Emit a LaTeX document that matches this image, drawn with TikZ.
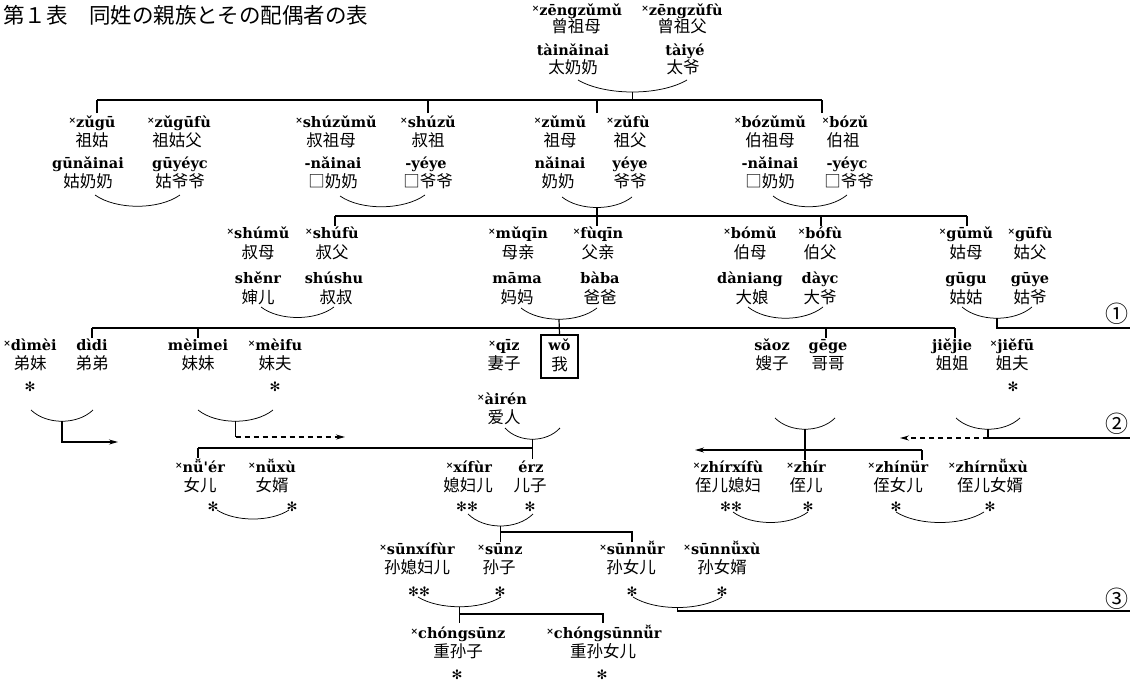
\documentclass[tikz,border=0pt]{standalone}
\usepackage{fontspec}
\usetikzlibrary{calc,arrows.meta}
\newfontfamily\pyfam{DejaVu Serif}
\newfontfamily\hzfam{Noto Sans CJK SC}
\newfontfamily\jpfam{Noto Sans CJK JP}
\newfontfamily\symfam{DejaVu Sans}
\newcommand{\pyf}{\pyfam\bfseries\fontsize{14.5}{14.5}\selectfont}
\newcommand{\hzf}{\hzfam\fontsize{16.5}{16.5}\selectfont}
\newcommand{\stf}{\symfam\fontsize{13}{13}\selectfont}
\newcommand{\ttlf}{\jpfam\fontsize{21.5}{21.5}\selectfont}
\newcommand{\circf}{\hzfam\fontsize{23}{23}\selectfont}
\newcommand{\xm}{\raisebox{3.5pt}{\fontsize{9}{9}\selectfont ×}}
\tikzset{
  py/.style={font=\pyf, inner sep=0pt, text height=11pt, text depth=3pt},
  hz/.style={font=\hzf, inner sep=0pt, text height=13.5pt, text depth=2pt},
  st/.style={font=\stf, inner sep=0pt},
  ttl/.style={font=\ttlf, inner sep=0pt, anchor=west},
  circnum/.style={font=\circf, inner sep=0pt},
  main/.style={line width=1.2pt},
  arcline/.style={line width=0.75pt},
  arr/.style={main, -{Stealth[length=9pt,width=5pt]}},
  darr/.style={arr, dash pattern=on 5pt off 4pt},
  wobox/.style={draw, line width=1.3pt, inner sep=0pt, minimum width=37pt, minimum height=43pt}
}
\newcommand{\pyn}[4]{\node[py] (#1) at (#2,#3) {#4};}
\newcommand{\hzn}[4]{\node[hz] (#1) at (#2,#3) {#4};}
\newcommand{\stn}[4]{\node[st] (#1) at (#2,#3) {#4};}
\newcommand{\marc}[6]{%
  \coordinate (#1L) at (#2,#3);
  \coordinate (#1R) at (#4,#5);
  \coordinate (#1M) at ($(#1L)!0.5!(#1R)+(0,0.75*#6)$);
  \draw[arcline] (#1L) .. controls ($(#1L)!0.25!(#1R)+(0,#6)$) and ($(#1L)!0.75!(#1R)+(0,#6)$) .. (#1R);
}
\begin{document}
\begin{tikzpicture}[x=1pt,y=-1pt]
\fill[white] (0,0) rectangle (1130,686);
\useasboundingbox (0,0) rectangle (1130,686);
\node[ttl] (title) at (3,15) {第１表　同姓の親族とその配偶者の表};

% generation 0
\pyn{ggmP}{577}{11}{\xm zēngzǔmǔ}
\hzn{ggmH}{576}{27}{曾祖母}
\pyn{ggmQ}{573}{51}{tàinǎinai}
\hzn{ggmG}{573}{68}{太奶奶}
\pyn{ggfP}{682}{11}{\xm zēngzǔfù}
\hzn{ggfH}{682}{27}{曾祖父}
\pyn{ggfQ}{685}{51}{tàiyé}
\hzn{ggfG}{683}{68}{太爷}
\marc{gg}{578}{80}{687}{80}{16}
\coordinate (L0a) at (97,100);
\coordinate (L0b) at (822,100);
\draw[main] (L0a) -- (L0b);
\draw[main] (ggM) -- (ggM |- L0a);
\coordinate (k01) at (97,113);
\coordinate (k02) at (428,113);
\coordinate (k03) at (597,113);
\coordinate (k04) at (822,113);
\foreach \k in {k01,k02,k03,k04} \draw[main] (\k) -- (\k |- L0a);

% generation 1
\pyn{zgP}{92}{123}{\xm zǔgū}
\hzn{zgH}{92}{141}{祖姑}
\pyn{zgQ}{88}{164}{gūnǎinai}
\hzn{zgG}{88}{182}{姑奶奶}
\pyn{zgfP}{179}{123}{\xm zǔgūfù}
\hzn{zgfH}{177}{141}{祖姑父}
\pyn{zgfQ}{180}{164}{gūyéyc}
\hzn{zgfG}{180}{182}{姑爷爷}
\marc{zg}{95}{195}{180}{195}{15}

\pyn{szmP}{336}{123}{\xm shúzǔmǔ}
\hzn{szmH}{331}{141}{叔祖母}
\pyn{szmQ}{333}{164}{-nǎinai}
\hzn{szmG}{333}{182}{□奶奶}
\pyn{szP}{428}{123}{\xm shúzǔ}
\hzn{szH}{428}{141}{叔祖}
\pyn{szQ}{426}{164}{-yéye}
\hzn{szG}{428}{182}{□爷爷}
\marc{sz}{340}{196}{425}{195}{15}

\pyn{zmP}{560}{123}{\xm zǔmǔ}
\hzn{zmH}{560}{141}{祖母}
\pyn{zmQ}{560}{164}{nǎinai}
\hzn{zmG}{558}{182}{奶奶}
\pyn{zfP}{628}{123}{\xm zǔfù}
\hzn{zfH}{630}{141}{祖父}
\pyn{zfQ}{630}{164}{yéye}
\hzn{zfG}{630}{182}{爷爷}
\marc{zz}{562}{197}{632}{197}{14}

\pyn{bzmP}{770}{123}{\xm bózǔmǔ}
\hzn{bzmH}{770}{141}{伯祖母}
\pyn{bzmQ}{770}{164}{-nǎinai}
\hzn{bzmG}{770}{182}{□奶奶}
\pyn{bzP}{845}{123}{\xm bózǔ}
\hzn{bzH}{843}{141}{伯祖}
\pyn{bzQ}{847}{164}{-yéyc}
\hzn{bzG}{849}{182}{□爷爷}
\marc{bz}{773}{196}{847}{195}{15}

\coordinate (L1a) at (335,216);
\coordinate (L1b) at (967,216);
\draw[main] (L1a) -- (L1b);
\coordinate (k11) at (335,226);
\coordinate (k12) at (597,226);
\coordinate (k13) at (821,226);
\coordinate (k14) at (967,226);
\foreach \k in {k11,k13,k14} \draw[main] (\k) -- (\k |- L1a);
\draw[main] (zzM) -- (k12);

% generation 2
\pyn{smP}{258}{234}{\xm shúmǔ}
\hzn{smH}{258}{253}{叔母}
\pyn{smQ}{258}{279}{shěnr}
\hzn{smG}{258}{298}{婶儿}
\pyn{sfP}{332}{234}{\xm shúfù}
\hzn{sfH}{332}{253}{叔父}
\pyn{sfQ}{334}{279}{shúshu}
\hzn{sfG}{336}{298}{叔叔}
\marc{sf}{261}{307}{334}{307}{14}

\pyn{mqP}{518}{234}{\xm mǔqīn}
\hzn{mqH}{518}{253}{母亲}
\pyn{mqQ}{517}{279}{māma}
\hzn{mqG}{517}{298}{妈妈}
\pyn{fqP}{598}{234}{\xm fùqīn}
\hzn{fqH}{598}{253}{父亲}
\pyn{fqQ}{600}{279}{bàba}
\hzn{fqG}{600}{298}{爸爸}
\marc{fq}{521}{308}{597}{308}{15}

\pyn{bmP}{750}{234}{\xm bómǔ}
\hzn{bmH}{750}{253}{伯母}
\pyn{bmQ}{750}{279}{dàniang}
\hzn{bmG}{752}{298}{大娘}
\pyn{bfP}{820}{234}{\xm bófù}
\hzn{bfH}{820}{253}{伯父}
\pyn{bfQ}{820}{279}{dàyc}
\hzn{bfG}{820}{298}{大爷}
\marc{bf}{748}{307}{823}{307}{15}

\pyn{gmP}{966}{234}{\xm gūmǔ}
\hzn{gmH}{966}{253}{姑母}
\pyn{gmQ}{966}{279}{gūgu}
\hzn{gmG}{966}{298}{姑姑}
\pyn{gfP}{1030}{234}{\xm gūfù}
\hzn{gfH}{1030}{253}{姑父}
\pyn{gfQ}{1030}{279}{gūye}
\hzn{gfG}{1030}{298}{姑爷}
\marc{gf}{962}{307}{1032}{307}{15}
\coordinate (L1r) at (1130,328);
\draw[main] (gfM) |- (L1r);
\node[circnum] (c1) at (1117,314) {①};

% generation 3
\node[wobox] (wobox) at (559.5,356.5) {};
\pyn{woP}{559.5}{346}{wǒ}
\hzn{woH}{559.5}{365}{我}
\draw[main] (fqM) -- (wobox.north);

\coordinate (L2a) at (92,328);
\coordinate (L2b) at (955,328);
\draw[main] (L2a) -- (L2b);
\coordinate (k21) at (92,338);
\coordinate (k22) at (198,338);
\coordinate (k23) at (826,338);
\coordinate (k24) at (955,338);
\foreach \k in {k21,k22,k23,k24} \draw[main] (\k) -- (\k |- L2a);

\pyn{dmP}{30}{346}{\xm dìmèi}
\hzn{dmH}{30}{364}{弟妹}
\stn{dmS}{30}{387}{✻}
\pyn{ddP}{92}{346}{dìdi}
\hzn{ddH}{92}{364}{弟弟}
\pyn{mmP}{198}{346}{mèimei}
\hzn{mmH}{198}{364}{妹妹}
\pyn{mfP}{275}{346}{\xm mèifu}
\hzn{mfH}{275}{364}{妹夫}
\stn{mfS}{275}{387}{✻}
\pyn{qzP}{504}{346}{\xm qīz}
\hzn{qzH}{504}{364}{妻子}
\pyn{arP}{502}{400}{\xm àirén}
\hzn{arH}{504}{418}{爱人}
\pyn{szP3}{772}{346}{sǎoz}
\hzn{szH3}{772}{364}{嫂子}
\pyn{ggP3}{828}{346}{gēge}
\hzn{ggH3}{828}{364}{哥哥}
\pyn{jjP}{952}{346}{jiějie}
\hzn{jjH}{952}{364}{姐姐}
\pyn{jfP}{1012}{346}{\xm jiěfū}
\hzn{jfH}{1012}{364}{姐夫}
\stn{jfS}{1013}{387}{✻}

\marc{dd}{31}{410}{93}{410}{15}
\coordinate (ddA) at (118,442);
\draw[arr] (ddM) |- (ddA);
\marc{mm}{198}{410}{273}{410}{15}
\coordinate (mmC) at (235.5,437);
\coordinate (mmA) at (345,437);
\draw[main] (mmM) -- (mmC);
\draw[darr] (mmC) -- (mmA);
\marc{qw}{505}{428}{560}{428}{15}
\coordinate (L3a) at (198,448);
\coordinate (k31) at (198,458);
\coordinate (k32) at (532.5,459);
\draw[main] (qwM) -- (k32);
\draw[main] (L3a) -- (qwM |- L3a);
\draw[main] (L3a) -- (k31);

\marc{sg}{775}{418}{835}{418}{15}
\marc{jj}{956}{418}{1020}{418}{15}
\coordinate (jjC) at (988,438);
\coordinate (jjE) at (1130,438);
\coordinate (jjA) at (900,438);
\draw[main] (jjM) -- (jjC) -- (jjE);
\draw[darr] (jjC) -- (jjA);
\node[circnum] (c2) at (1117,424) {②};
\coordinate (zhA) at (695,450);
\coordinate (zhB) at (922,450);
\coordinate (k33) at (922,460);
\coordinate (k34) at (805,460);
\draw[arr] (zhB) -- (zhA);
\draw[main] (zhB) -- (k33);
\draw[main] (sgM) -- (k34);

% generation 4
\pyn{neP}{200}{468}{\xm nǚ'ér}
\hzn{neH}{200}{486}{女儿}
\stn{neS}{213}{507}{✻}
\pyn{nxP}{272}{468}{\xm nǚxù}
\hzn{nxH}{272}{486}{女婿}
\stn{nxS}{292}{507}{✻}
\marc{ne}{217}{510}{289}{510}{12}
\pyn{xfP}{469}{468}{\xm xífùr}
\hzn{xfH}{468}{486}{媳妇儿}
\stn{xfS}{467}{507}{✻✻}
\pyn{ezP}{531}{468}{érz}
\hzn{ezH}{530}{486}{儿子}
\stn{ezS}{530}{507}{✻}
\marc{xe}{468}{514}{533}{514}{16}
\pyn{zxP}{728}{468}{\xm zhírxífù}
\hzn{zxH}{728}{486}{侄儿媳妇}
\stn{zxS}{731}{507}{✻✻}
\pyn{zrP}{806}{468}{\xm zhír}
\hzn{zrH}{806}{486}{侄儿}
\stn{zrS}{808}{507}{✻}
\marc{zx}{733}{512}{808}{512}{14}
\pyn{znP}{898}{468}{\xm zhínür}
\hzn{znH}{898}{486}{侄女儿}
\stn{znS}{896}{507}{✻}
\pyn{zyP}{988}{468}{\xm zhírnǚxù}
\hzn{zyH}{990}{486}{侄儿女婿}
\stn{zyS}{990}{507}{✻}
\marc{zn}{896}{512}{984}{512}{14}

\coordinate (L4b) at (632,532);
\coordinate (k41) at (500.5,542);
\coordinate (k42) at (632,542);
\draw[main] (xeM) -- (k41);
\draw[main] (xeM |- L4b) -- (L4b) -- (k42);

% generation 5
\pyn{sxP}{417}{550}{\xm sūnxífùr}
\hzn{sxH}{417}{568}{孙媳妇儿}
\stn{sxS}{419}{592}{✻✻}
\pyn{snP}{500}{550}{\xm sūnz}
\hzn{snH}{499}{568}{孙子}
\stn{snS}{500}{592}{✻}
\marc{sx}{418}{597}{501}{597}{13}
\pyn{srP}{632}{550}{\xm sūnnǚr}
\hzn{srH}{631}{568}{孙女儿}
\stn{srS}{632}{592}{✻}
\pyn{syP}{722}{550}{\xm sūnnǚxù}
\hzn{syH}{722}{568}{孙女婿}
\stn{sySt}{722}{592}{✻}
\marc{sn}{633}{597}{722}{597}{14}
\coordinate (L5r) at (1130,611);
\draw[main] (snM) |- (L5r);
\node[circnum] (c3) at (1117,599) {③};
\coordinate (L6b) at (603,614);
\coordinate (k51) at (459.5,623);
\coordinate (k52) at (603,623);
\draw[main] (sxM) -- (k51);
\draw[main] (sxM |- L6b) -- (L6b) -- (k52);

% generation 6
\pyn{csP}{458}{634}{\xm chóngsūnz}
\hzn{csH}{458}{652}{重孙子}
\stn{csS}{457}{675}{✻}
\pyn{cnP}{604}{634}{\xm chóngsūnnǚr}
\hzn{cnH}{603}{652}{重孙女儿}
\stn{cnS}{602}{675}{✻}
\end{tikzpicture}
\end{document}
